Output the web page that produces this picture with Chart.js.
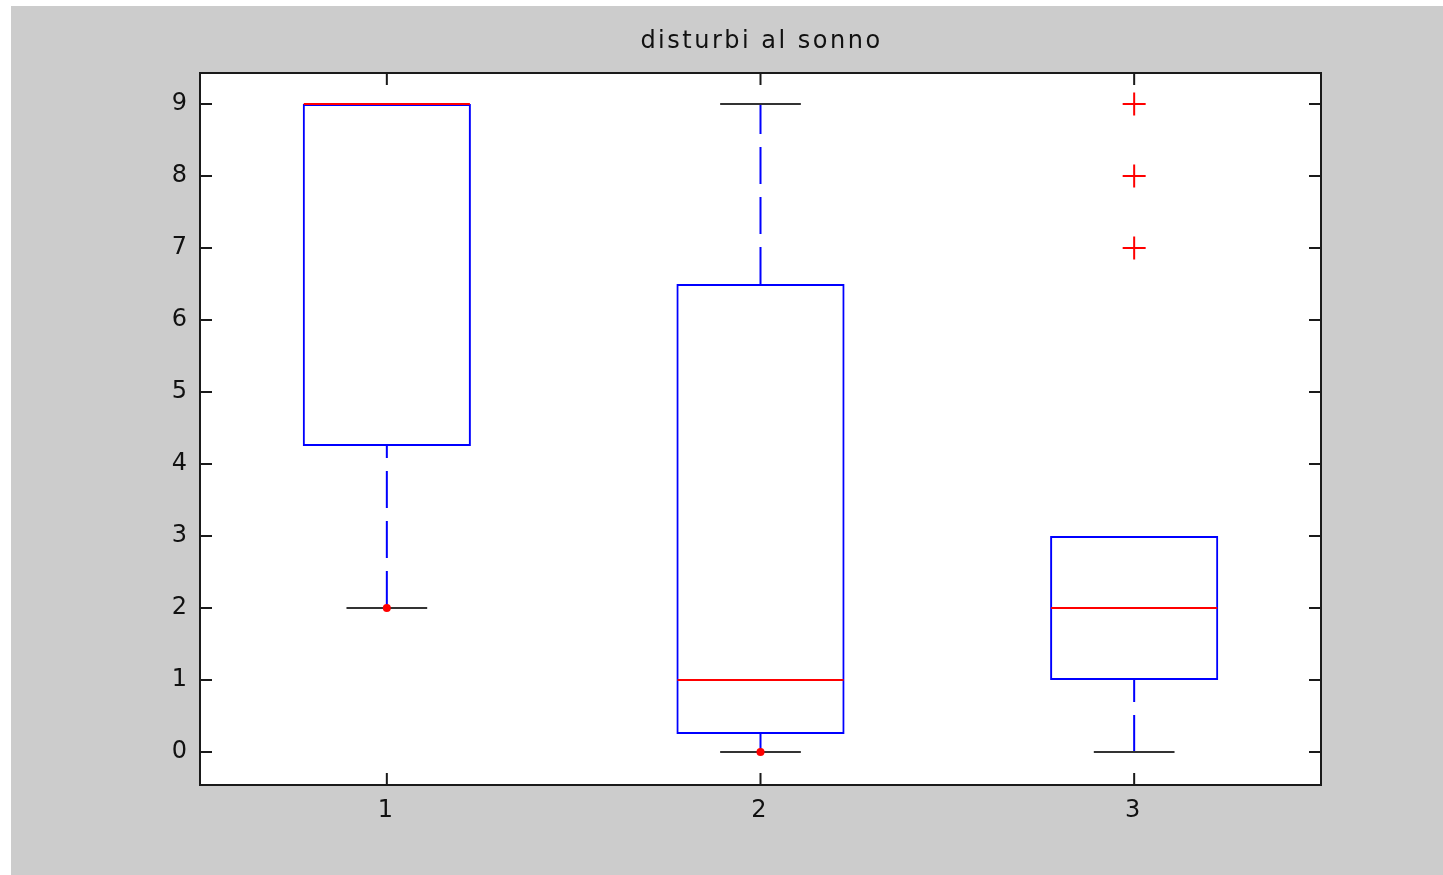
<!DOCTYPE html>
<html>
<head>
<meta charset="utf-8">
<script src="https://cdn.jsdelivr.net/npm/chart.js@4/dist/chart.umd.min.js"></script>
<style>
  html, body { margin: 0; padding: 0; background: #ffffff; }
  #wrap { position: absolute; left: 11px; top: 6px; width: 1432px; height: 869px; background: #cccccc; }
</style>
</head>
<body>
<div id="wrap"><canvas id="myChart" width="1432" height="869"></canvas></div>
<script>
'use strict';

// boxplot data
const categories = ['1', '2', '3'];
const q1 = [4.25, 0.25, 1];
const q3 = [9, 6.5, 3];
const medians = [9, 1, 2];
const whiskerLow = [2, 0, 0];
const whiskerHigh = [9, 9, 3];
const dotCats = ['1', '2'];
const dotValues = [2, 0];
const outlierCats = ['3', '3', '3'];
const outlierValues = [9, 8, 7];
const yTicks = [0, 1, 2, 3, 4, 5, 6, 7, 8, 9];
const title = 'disturbi al sonno';

const BLUE = '#0000ff';
const RED = '#ff0000';

const boxParts = {
  id: 'boxParts',
  beforeDraw(chart) {
    const ctx = chart.ctx;
    const a = chart.chartArea;
    ctx.letterSpacing = '3px';
    ctx.save();
    ctx.fillStyle = '#ffffff';
    ctx.fillRect(a.left, a.top, a.right - a.left, a.bottom - a.top);
    // title, centred over the plot box
    ctx.letterSpacing = '2.5px';
    ctx.fillStyle = '#111111';
    ctx.font = '24px "DejaVu Sans"';
    ctx.textAlign = 'center';
    ctx.textBaseline = 'middle';
    ctx.fillText(title, (a.left + a.right) / 2 + 1, 36);
    ctx.restore();
  },
  beforeDatasetsDraw(chart) {
    const ctx = chart.ctx;
    const x = chart.scales.x;
    const y = chart.scales.y;
    const step = x.getPixelForValue(1) - x.getPixelForValue(0);
    const capHalf = step * 0.108;
    ctx.save();
    ctx.lineWidth = 2;
    // whiskers (dashed, from the low end upwards)
    ctx.strokeStyle = BLUE;
    ctx.setLineDash([37, 13]);
    for (let i = 0; i < categories.length; i++) {
      const px = x.getPixelForValue(i);
      if (whiskerLow[i] < q1[i]) {
        ctx.beginPath();
        ctx.moveTo(px, y.getPixelForValue(whiskerLow[i]));
        ctx.lineTo(px, y.getPixelForValue(q1[i]));
        ctx.stroke();
      }
      if (whiskerHigh[i] > q3[i]) {
        ctx.beginPath();
        ctx.moveTo(px, y.getPixelForValue(q3[i]));
        ctx.lineTo(px, y.getPixelForValue(whiskerHigh[i]));
        ctx.stroke();
      }
    }
    // caps (hidden by the box where the whisker is empty)
    ctx.setLineDash([]);
    ctx.strokeStyle = '#333333';
    for (let i = 0; i < categories.length; i++) {
      const px = x.getPixelForValue(i);
      const ends = [];
      if (whiskerLow[i] < q1[i]) ends.push(whiskerLow[i]);
      if (whiskerHigh[i] > q3[i]) ends.push(whiskerHigh[i]);
      for (const v of ends) {
        const py = y.getPixelForValue(v);
        ctx.beginPath();
        ctx.moveTo(px - capHalf, py);
        ctx.lineTo(px + capHalf, py);
        ctx.stroke();
      }
    }
    ctx.restore();
  },
  afterDatasetDraw(chart, args) {
    if (args.index !== 0) return;
    const ctx = chart.ctx;
    const x = chart.scales.x;
    const y = chart.scales.y;
    const half = (x.getPixelForValue(1) - x.getPixelForValue(0)) * 0.45 / 2;
    ctx.save();
    ctx.lineWidth = 2;
    ctx.strokeStyle = RED;
    for (let i = 0; i < categories.length; i++) {
      const px = x.getPixelForValue(i);
      const py = y.getPixelForValue(medians[i]);
      ctx.beginPath();
      ctx.moveTo(px - half + 1, py);
      ctx.lineTo(px + half - 1, py);
      ctx.stroke();
    }
    ctx.restore();
  },
  afterDraw(chart) {
    const ctx = chart.ctx;
    const a = chart.chartArea;
    const x = chart.scales.x;
    const y = chart.scales.y;
    const tl = 12;
    ctx.save();
    ctx.strokeStyle = '#1a1a1a';
    ctx.lineWidth = 2;
    ctx.strokeRect(a.left, a.top, a.right - a.left, a.bottom - a.top);
    ctx.beginPath();
    for (const v of yTicks) {
      const py = y.getPixelForValue(v);
      ctx.moveTo(a.left, py);
      ctx.lineTo(a.left + tl, py);
      ctx.moveTo(a.right, py);
      ctx.lineTo(a.right - tl, py);
    }
    for (let i = 0; i < categories.length; i++) {
      const px = x.getPixelForValue(i);
      ctx.moveTo(px, a.bottom);
      ctx.lineTo(px, a.bottom - tl);
      ctx.moveTo(px, a.top);
      ctx.lineTo(px, a.top + tl);
    }
    ctx.stroke();
    ctx.restore();
  }
};

function generateChart() {
  const ctx = document.getElementById('myChart').getContext('2d');
  new Chart(ctx, {
    type: 'bar',
    data: {
      labels: categories,
      datasets: [{
        label: 'box',
        data: q1.map((v, i) => [v, q3[i]]),
        backgroundColor: 'rgba(0,0,0,0)',
        borderColor: BLUE,
        borderWidth: 2,
        borderSkipped: false,
        barPercentage: 0.45,
        categoryPercentage: 1,
        order: 3,
      },
      {
        type: 'line',
        label: 'dots',
        data: dotCats.map((c, i) => ({x: c, y: dotValues[i]})),
        showLine: false,
        pointStyle: 'circle',
        pointRadius: 4,
        pointBackgroundColor: RED,
        pointBorderWidth: 0,
        order: 1,
      },
      {
        type: 'line',
        label: 'outliers',
        data: outlierCats.map((c, i) => ({x: c, y: outlierValues[i]})),
        showLine: false,
        pointStyle: 'cross',
        pointRadius: 11.5,
        pointBorderColor: RED,
        pointBorderWidth: 2,
        order: 2,
      }]
    },
    options: {
      responsive: false,
      animation: false,
      layout: {padding: {left: 0, right: 122, top: 67, bottom: 0}},
      plugins: {
        legend: {display: false},
        tooltip: {enabled: false},
        title: {display: false},
      },
      scales: {
        x: {
          type: 'category',
          offset: true,
          grid: {display: false, drawTicks: false},
          border: {display: false},
          ticks: {color: '#111111', padding: 11, font: {family: 'DejaVu Sans', size: 24}},
          afterFit(scale) { scale.height = 90; },
        },
        y: {
          min: -0.458,
          max: 9.43,
          grid: {display: false, drawTicks: false},
          border: {display: false},
          ticks: {color: '#111111', padding: 10, font: {family: 'DejaVu Sans', size: 24}},
          afterBuildTicks(scale) { scale.ticks = yTicks.map(v => ({value: v})); },
          afterFit(scale) { scale.width = 189; },
        },
      },
    },
    plugins: [boxParts],
  });
}

generateChart();
</script>
</body>
</html>
